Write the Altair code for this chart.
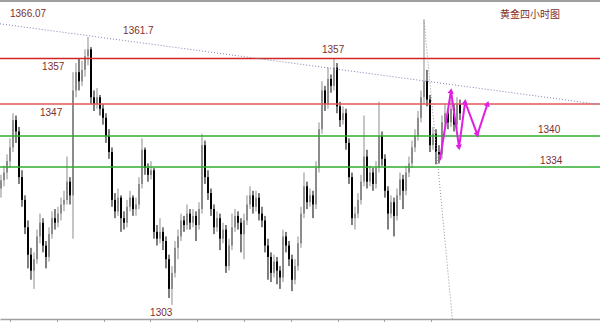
import altair as alt
import pandas as pd

# ---- OHLC candles (4-hour gold) ----
opens = [
    1328.5, 1330.3, 1332.0, 1334.5, 1337.5, 1343.5, 1341.0, 1331.0, 1326.0, 1320.0,
    1314.0, 1310.5, 1313.0, 1318.0, 1321.0, 1316.0, 1313.5, 1318.5, 1322.0, 1321.0,
    1323.0, 1325.0, 1326.0, 1330.0, 1327.0, 1350.0, 1354.0, 1352.0, 1354.5, 1357.5,
    1359.0, 1348.5, 1347.0, 1348.5, 1346.0, 1344.0, 1340.0, 1336.5, 1326.0, 1323.5,
    1326.5, 1322.0, 1321.0, 1324.5, 1326.5, 1324.0, 1325.0, 1329.5, 1337.0, 1333.0,
    1331.5, 1332.5, 1319.0, 1317.5, 1319.0, 1317.0, 1313.0, 1306.5, 1310.0, 1315.5,
    1318.0, 1321.5, 1320.5, 1323.0, 1321.0, 1322.5, 1320.5, 1324.0, 1338.0, 1331.0,
    1327.5, 1324.0, 1320.0, 1322.0, 1317.5, 1319.5, 1311.5, 1316.0, 1320.0, 1322.5,
    1321.0, 1318.5, 1321.5, 1325.0, 1327.0, 1324.5, 1326.5, 1323.0, 1321.5, 1316.0,
    1313.5, 1310.0, 1312.5, 1310.5, 1309.0, 1318.0, 1316.0, 1313.0, 1308.5, 1311.5,
    1316.5, 1323.0, 1329.0, 1325.5, 1327.0, 1325.0, 1333.0, 1341.5, 1350.0, 1347.0,
    1352.5, 1351.0, 1355.0, 1346.5, 1343.5, 1345.0, 1338.5, 1331.0, 1322.0, 1323.0,
    1326.0, 1330.0, 1335.5, 1330.0, 1332.0, 1329.5, 1333.0, 1340.0, 1335.0, 1328.0,
    1323.0, 1325.5, 1322.5, 1327.0, 1330.5, 1328.0, 1332.0, 1334.0, 1337.5, 1340.0,
    1344.0, 1348.5, 1352.0, 1348.0, 1338.0, 1340.5, 1336.5, 1336.0, 1343.0, 1345.0,
    1343.0, 1346.0, 1342.5, 1347.0,
]
highs = [
    1331.5, 1333.5, 1336.0, 1339.5, 1345.0, 1344.5, 1342.0, 1332.5, 1327.0, 1321.5,
    1315.5, 1314.5, 1319.5, 1323.0, 1322.0, 1317.0, 1320.0, 1323.5, 1324.0, 1324.5,
    1326.5, 1328.0, 1335.5, 1331.0, 1354.0, 1356.0, 1357.0, 1356.5, 1359.0, 1361.7,
    1359.5, 1350.0, 1350.5, 1349.0, 1347.0, 1345.0, 1341.5, 1337.5, 1327.5, 1328.5,
    1327.0, 1323.5, 1326.0, 1328.0, 1327.0, 1326.5, 1331.0, 1339.5, 1337.5, 1334.0,
    1334.5, 1333.0, 1320.5, 1322.0, 1320.0, 1318.0, 1314.0, 1311.5, 1317.0, 1319.5,
    1323.0, 1322.5, 1325.0, 1324.0, 1324.0, 1323.5, 1325.5, 1340.5, 1339.0, 1332.5,
    1328.5, 1325.0, 1323.5, 1323.0, 1321.0, 1320.5, 1317.5, 1323.0, 1324.0, 1323.5,
    1322.0, 1323.0, 1327.0, 1329.0, 1328.0, 1328.0, 1327.5, 1324.5, 1322.5, 1317.5,
    1314.5, 1314.0, 1313.5, 1311.5, 1319.5, 1319.0, 1317.0, 1314.0, 1313.0, 1318.0,
    1324.5, 1332.0, 1330.0, 1328.5, 1328.0, 1334.5, 1343.0, 1352.0, 1351.0, 1355.0,
    1353.5, 1357.0, 1356.0, 1347.5, 1346.5, 1346.0, 1339.5, 1332.0, 1324.5, 1327.5,
    1331.5, 1344.5, 1337.0, 1333.5, 1333.0, 1334.5, 1347.5, 1341.0, 1336.0, 1329.0,
    1327.0, 1326.5, 1328.5, 1332.0, 1331.5, 1333.5, 1335.5, 1339.0, 1341.5, 1345.5,
    1350.0, 1365.5, 1354.5, 1349.0, 1342.0, 1341.5, 1338.0, 1344.5, 1347.0, 1346.0,
    1348.0, 1347.0, 1348.5, 1348.0,
]
lows = [
    1326.5, 1329.0, 1330.5, 1333.0, 1336.5, 1338.5, 1329.5, 1324.5, 1318.5, 1311.0,
    1308.5, 1306.5, 1312.0, 1316.5, 1314.5, 1311.0, 1312.5, 1317.5, 1319.5, 1320.0,
    1321.5, 1323.5, 1325.0, 1325.0, 1317.5, 1348.5, 1350.0, 1351.0, 1353.0, 1355.5,
    1347.0, 1345.5, 1346.0, 1344.5, 1342.5, 1338.5, 1335.0, 1324.5, 1322.0, 1322.5,
    1319.0, 1319.5, 1320.0, 1323.5, 1322.5, 1322.5, 1324.0, 1328.5, 1331.5, 1330.0,
    1330.5, 1317.5, 1316.0, 1316.5, 1315.0, 1311.0, 1304.5, 1303.0, 1309.0, 1313.0,
    1317.0, 1319.0, 1319.5, 1319.5, 1320.0, 1317.0, 1319.5, 1323.0, 1329.5, 1326.0,
    1322.5, 1318.5, 1319.0, 1315.0, 1316.5, 1310.0, 1310.5, 1315.0, 1319.0, 1319.5,
    1314.5, 1313.0, 1320.5, 1324.0, 1323.0, 1323.5, 1321.5, 1320.0, 1314.5, 1308.5,
    1308.0, 1309.0, 1307.5, 1306.5, 1308.0, 1314.5, 1311.5, 1306.0, 1307.5, 1310.5,
    1315.5, 1322.0, 1324.0, 1324.5, 1322.0, 1324.0, 1332.0, 1340.5, 1345.5, 1346.0,
    1349.5, 1350.0, 1345.0, 1342.0, 1342.5, 1337.0, 1329.5, 1320.5, 1319.5, 1322.0,
    1325.0, 1329.0, 1328.5, 1329.0, 1328.0, 1328.5, 1332.0, 1333.5, 1326.5, 1319.5,
    1322.0, 1318.0, 1321.5, 1326.0, 1324.0, 1327.0, 1331.0, 1333.0, 1336.5, 1339.0,
    1343.0, 1347.0, 1346.5, 1336.5, 1337.0, 1333.8, 1334.0, 1335.0, 1342.0, 1341.5,
    1342.0, 1341.0, 1341.5, 1343.5,
]
closes = [
    1330.3, 1332.0, 1334.5, 1337.5, 1343.5, 1341.0, 1331.0, 1326.0, 1320.0, 1314.0,
    1310.5, 1313.0, 1318.0, 1321.0, 1316.0, 1313.5, 1318.5, 1322.0, 1321.0, 1323.0,
    1325.0, 1326.0, 1330.0, 1327.0, 1350.0, 1354.0, 1352.0, 1354.5, 1357.5, 1359.0,
    1348.5, 1347.0, 1348.5, 1346.0, 1344.0, 1340.0, 1336.5, 1326.0, 1323.5, 1326.5,
    1322.0, 1321.0, 1324.5, 1326.5, 1324.0, 1325.0, 1329.5, 1337.0, 1333.0, 1331.5,
    1332.5, 1319.0, 1317.5, 1319.0, 1317.0, 1313.0, 1306.5, 1310.0, 1315.5, 1318.0,
    1321.5, 1320.5, 1323.0, 1321.0, 1322.5, 1320.5, 1324.0, 1338.0, 1331.0, 1327.5,
    1324.0, 1320.0, 1322.0, 1317.5, 1319.5, 1311.5, 1316.0, 1320.0, 1322.5, 1321.0,
    1318.5, 1321.5, 1325.0, 1327.0, 1324.5, 1326.5, 1323.0, 1321.5, 1316.0, 1313.5,
    1310.0, 1312.5, 1310.5, 1309.0, 1318.0, 1316.0, 1313.0, 1308.5, 1311.5, 1316.5,
    1323.0, 1329.0, 1325.5, 1327.0, 1325.0, 1333.0, 1341.5, 1350.0, 1347.0, 1352.5,
    1351.0, 1355.0, 1346.5, 1343.5, 1345.0, 1338.5, 1331.0, 1322.0, 1323.0, 1326.0,
    1330.0, 1335.5, 1330.0, 1332.0, 1329.5, 1333.0, 1340.0, 1335.0, 1328.0, 1323.0,
    1325.5, 1322.5, 1327.0, 1330.5, 1328.0, 1332.0, 1334.0, 1337.5, 1340.0, 1344.0,
    1348.5, 1352.0, 1348.0, 1338.0, 1340.5, 1336.5, 1336.0, 1343.0, 1345.0, 1343.0,
    1346.0, 1342.5, 1347.0, 1345.0,
]
bar_index = list(range(len(closes)))

# ---- horizontal levels ----
level_prices = [1357, 1347, 1340, 1333.2]
level_colors = ["#d42424", "#e25a5a", "#2fae2f", "#2fae2f"]

# ---- trend lines (bar index, price) ----
down_trend_t = [-0.33, 199.67]
down_trend_p = [1364.6, 1346.9]
steep_t = [141, 150.6]
steep_p = [1365.5, 1299.0]

# ---- projected zigzag (magenta) ----
proj_t = [146.3, 150.0, 152.7, 154.7, 158.8, 162.2]
proj_p = [1334.7, 1349.9, 1337.5, 1347.5, 1340.3, 1347.1]
arrow_angle = [9, 172, 7, 159, 18]

# ---- price labels ----
label_text = ["1366.07", "1361.7", "1357", "1347", "1357", "1340", "1334", "1303"]
label_t = [3.0, 40.7, 13.7, 13.0, 107.0, 179.0, 179.7, 49.7]
label_p = [1366.07, 1361.7, 1357, 1347, 1357, 1340, 1334, 1303]
label_dy = [-3, -6, 9, 8.5, -8, -6.5, -2, 8]

x_ticks = [3, 10.8, 18.6, 26.4, 34.2, 42, 49.8, 57.6, 65.4, 73.2, 81, 88.8,
           96.6, 104.4, 112.2, 120, 127.8, 135.6, 143.4, 151.2]

XDOM = [-0.33, 199.67]
YDOM = [1299.9, 1369.6]
xs = alt.Scale(domain=XDOM, nice=False, zero=False)
ys = alt.Scale(domain=YDOM, nice=False, zero=False)

candles = pd.DataFrame({"t": bar_index, "open": opens, "high": highs,
                        "low": lows, "close": closes})

base = alt.Chart(candles)
xenc = alt.X("t:Q", scale=xs,
             axis=alt.Axis(values=x_ticks, labels=False, title=None, grid=False,
                           domainColor="#a0a0a0", tickColor="#a0a0a0", tickSize=3,
                           domainWidth=1.5, tickWidth=1))
yenc = alt.Y("low:Q", scale=ys, axis=None)

up = "datum.close >= datum.open"
down = "datum.close < datum.open"

wicks_up = base.transform_filter(up).mark_rule(strokeWidth=1, color="#8c8c8c").encode(
    x=xenc, y=yenc, y2="high:Q")
wicks_dn = base.transform_filter(down).mark_rule(strokeWidth=1, color="#000000").encode(
    x="t:Q", y="low:Q", y2="high:Q")
bodies_up = base.transform_filter(up).mark_rule(strokeWidth=2, color="#8c8c8c").encode(
    x="t:Q", y="open:Q", y2="close:Q")
bodies_dn = base.transform_filter(down).mark_rule(strokeWidth=2, color="#000000").encode(
    x="t:Q", y="open:Q", y2="close:Q")

level_layers = []
for p, c in zip(level_prices, level_colors):
    level_layers.append(
        alt.Chart(pd.DataFrame({"p": [p]})).mark_rule(strokeWidth=1.5, color=c)
        .encode(y="p:Q"))

down_df = pd.DataFrame({"t": down_trend_t, "p": down_trend_p})
down_line = alt.Chart(down_df).mark_line(
    color="#8080b8", strokeWidth=1, strokeDash=[1, 2], clip=True
).encode(x="t:Q", y="p:Q")

steep_df = pd.DataFrame({"t": steep_t, "p": steep_p})
steep_line = alt.Chart(steep_df).mark_line(
    color="#9090a8", strokeWidth=1, strokeDash=[1, 2], clip=True
).encode(x="t:Q", y="p:Q")

proj_df = pd.DataFrame({"t": proj_t, "p": proj_p})
proj_line = alt.Chart(proj_df).mark_line(color="#e020e0", strokeWidth=2).encode(
    x="t:Q", y="p:Q")

head_layers = []
for t, p, a in zip(proj_t[1:], proj_p[1:], arrow_angle):
    head_layers.append(
        alt.Chart(pd.DataFrame({"t": [t], "p": [p]})).mark_point(
            shape="triangle-up", filled=True, color="#e020e0", size=40,
            opacity=1, angle=a).encode(x="t:Q", y="p:Q"))

label_layers = []
for txt, t, p, dy in zip(label_text, label_t, label_p, label_dy):
    df = pd.DataFrame({"t": [t], "p": [p], "txt": [txt]})
    label_layers.append(
        alt.Chart(df).mark_text(align="left", baseline="middle", dy=dy,
                                font="Liberation Sans", fontSize=10,
                                color="#7e2e2e").encode(
            x="t:Q", y="p:Q", text="txt:N")
    )

title_df = pd.DataFrame({"t": [166.3], "p": [1366.6], "s": ["黄金四小时图"]})
title_txt = alt.Chart(title_df).mark_text(
    align="left", baseline="middle", font="Noto Sans CJK SC", fontSize=10,
    color="#7e2e2e").encode(x="t:Q", y="p:Q", text="s:N")

top_df = pd.DataFrame({"p": [YDOM[1]]})
top_border = alt.Chart(top_df).mark_rule(color="#a0a0a0", strokeWidth=2).encode(
    y="p:Q")

chart = alt.layer(
    wicks_up, wicks_dn, bodies_up, bodies_dn,
    *level_layers, down_line, steep_line, proj_line, *head_layers,
    *label_layers, title_txt, top_border,
).properties(
    width=600, height=318,
    autosize=alt.AutoSizeParams(type="none"),
    padding={"left": 0, "right": 0, "top": 1, "bottom": 3},
    background="white",
).configure_view(strokeWidth=0)

chart.save("out.html", embed_options={"renderer": "svg", "actions": False})
